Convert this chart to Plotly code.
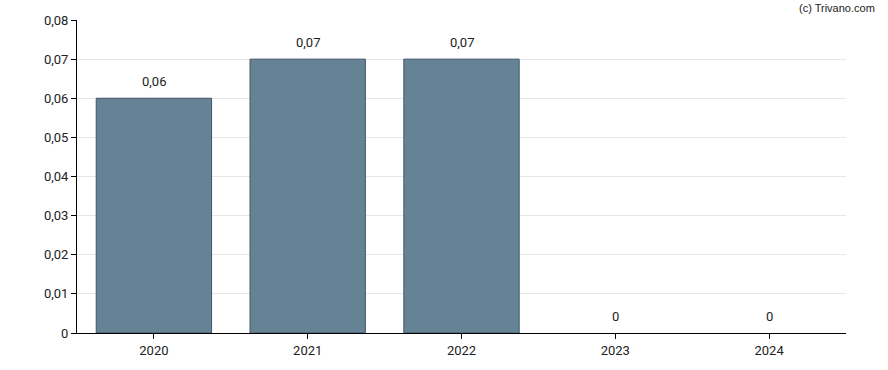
import plotly.graph_objects as go

years = ["2020", "2021", "2022", "2023", "2024"]
values = [0.06, 0.07, 0.07, 0, 0]
labels = ["0,06", "0,07", "0,07", "0", "0"]

fig = go.Figure()
fig.add_trace(go.Bar(
    x=years, y=values,
    marker=dict(color="rgb(102,131,150)",
                line=dict(color="rgb(62,86,106)", width=[1 if v > 0 else 0 for v in values])),
    hoverinfo="skip",
))

for i, (y, t) in enumerate(zip(values, labels)):
    fig.add_annotation(x=i, y=y, text=t, showarrow=False, yshift=17,
                       font=dict(family="Roboto, Arial, sans-serif", size=13, color="#222"))

fig.add_annotation(text="(c) Trivano.com", xref="paper", yref="paper", x=1.0, y=1.0,
                   xanchor="right", yanchor="middle", xshift=31, yshift=12, showarrow=False,
                   font=dict(family="Liberation Sans, Arial, sans-serif", size=11, color="#222"))

fig.update_layout(
    width=888, height=370,
    margin=dict(l=77, r=42, t=20, b=35),
    paper_bgcolor="white", plot_bgcolor="white",
    separators=",.",
    bargap=0.25,
    showlegend=False,
    font=dict(family="Roboto, Arial, sans-serif", size=13, color="#222"),
)
fig.update_xaxes(type="category", range=[-0.5, 4.5], showline=True, linecolor="black", linewidth=1,
                 ticks="outside", ticklen=5, tickcolor="black", showgrid=False)
fig.update_yaxes(range=[0, 0.08], dtick=0.01, showline=True, linecolor="black", linewidth=1,
                 ticks="outside", ticklen=5, tickcolor="black", showgrid=True,
                 gridcolor="#e6e6e6", zeroline=False)

fig.write_html("out.html", config={"displayModeBar": False},
               post_script="document.body.style.margin='0';")
